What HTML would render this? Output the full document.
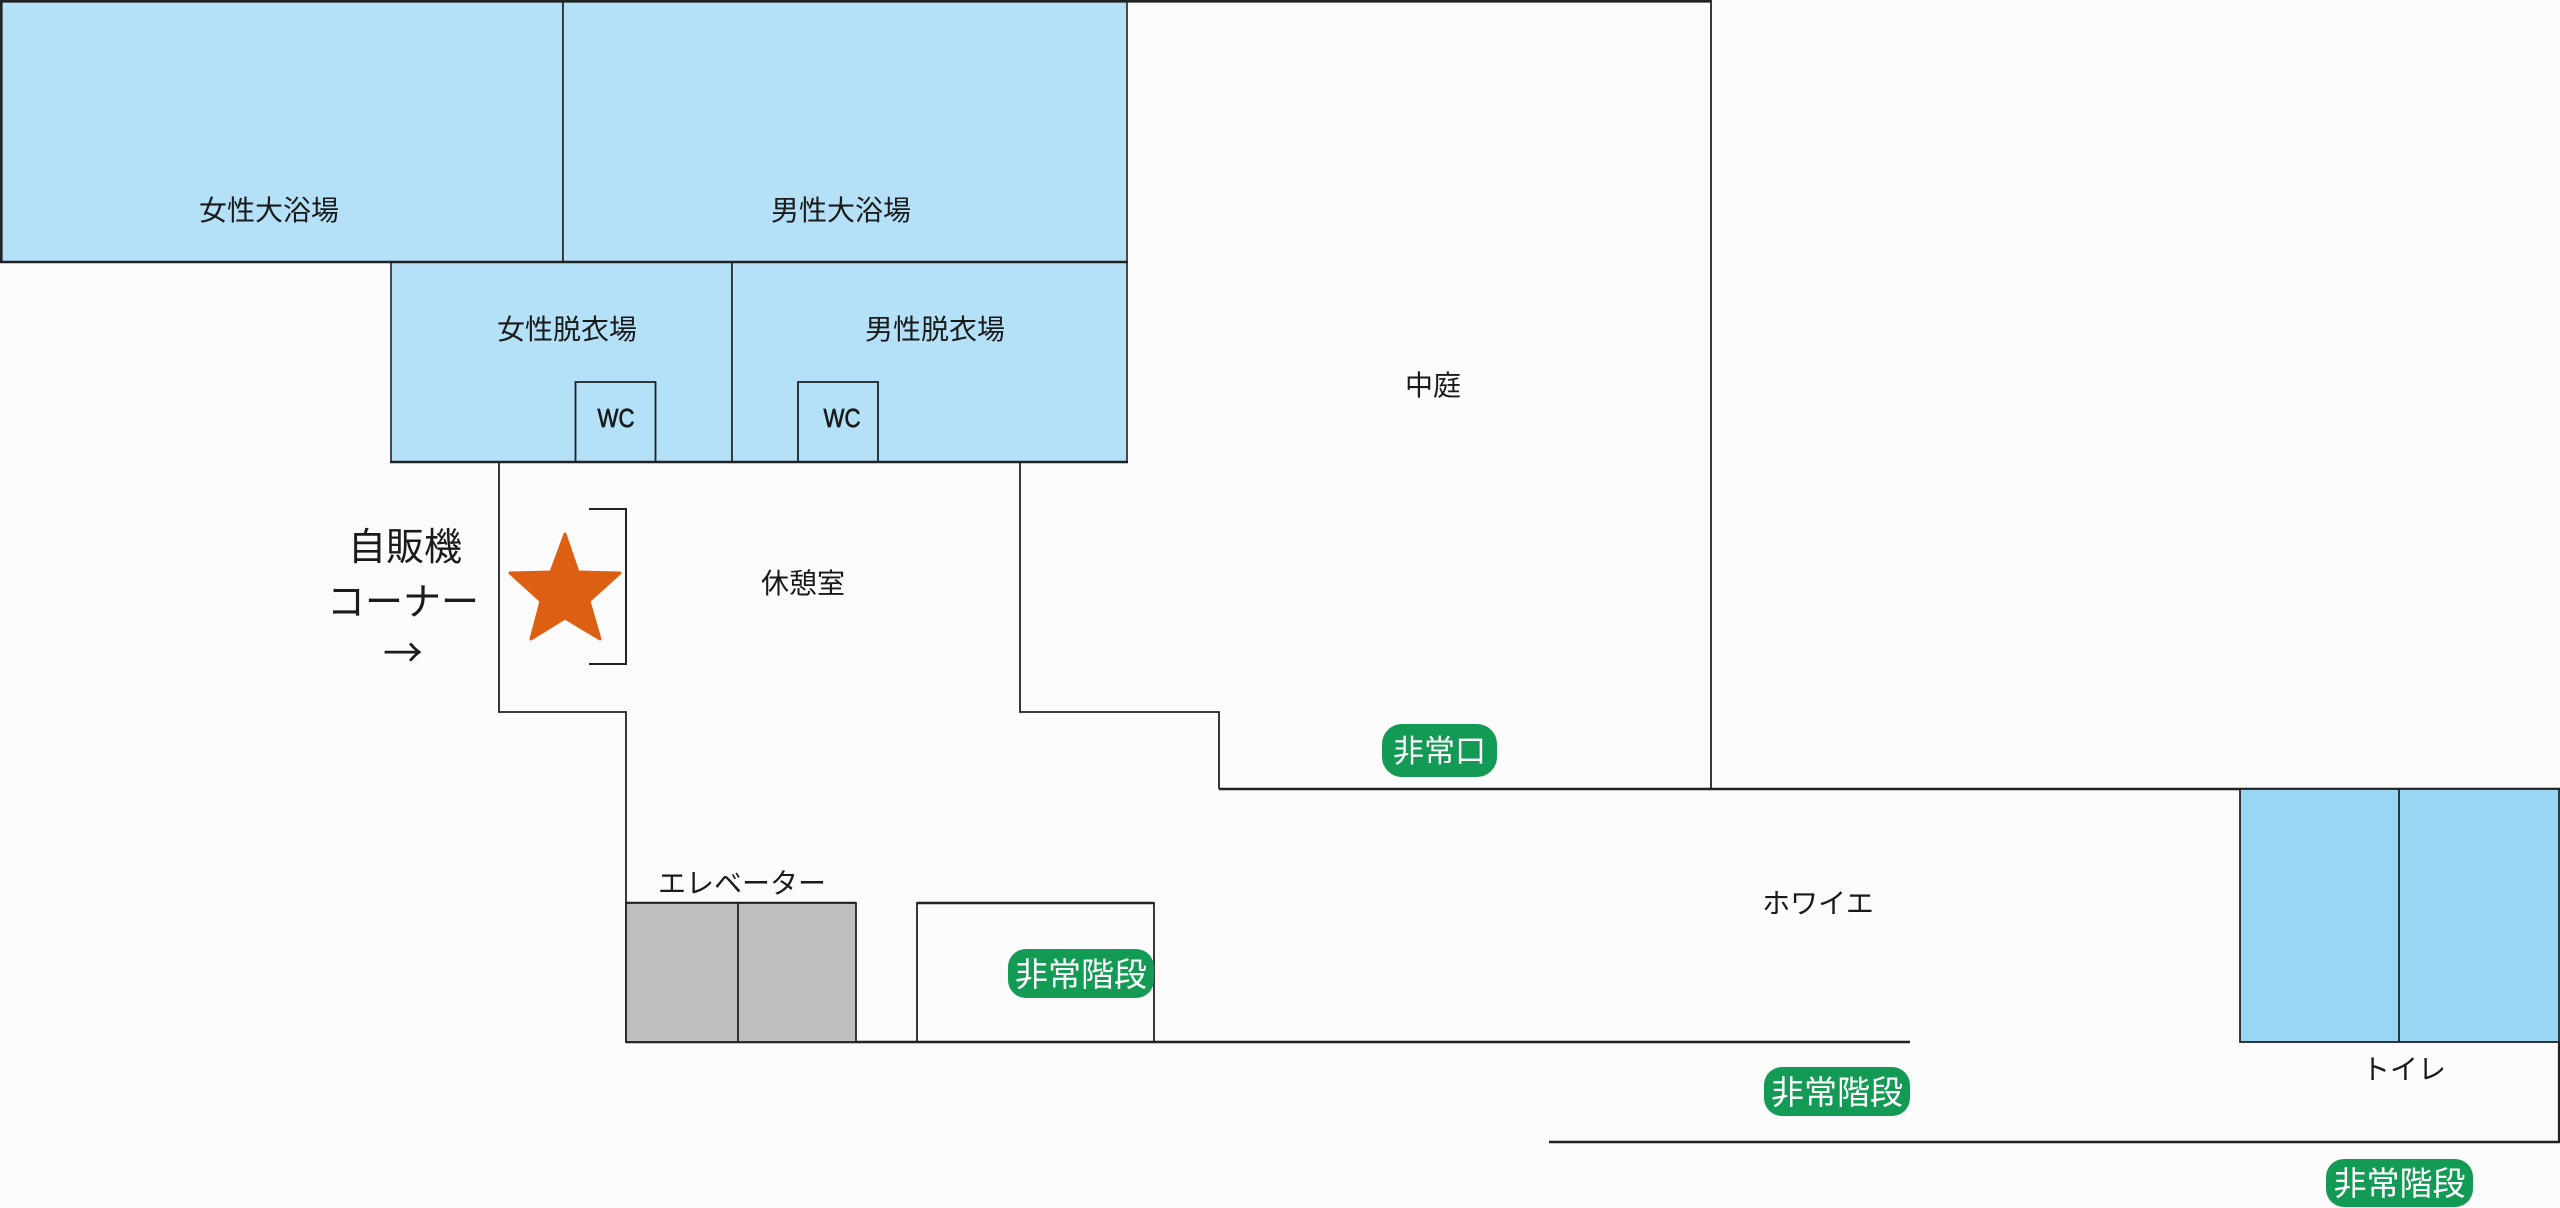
<!DOCTYPE html>
<html>
<head>
<meta charset="utf-8">
<style>
  html, body { margin: 0; padding: 0; background: #fbfbfb; }
  svg { display: block; }
  text { font-family: "Liberation Sans", "Noto Sans CJK JP", sans-serif; fill: #1a1a1a; }
  .lbl { font-size: 28px; text-anchor: middle; }
  .big { font-size: 38px; text-anchor: middle; }
  .badge { fill: #139a55; }
  .bt { fill: #ffffff; text-anchor: middle; }
</style>
</head>
<body>
<svg width="2560" height="1208" viewBox="0 0 2560 1208" xmlns="http://www.w3.org/2000/svg">
  <rect x="0" y="0" width="2560" height="1208" fill="#fbfbfb"/>

  <!-- Bath rooms -->
  <rect x="1" y="1" width="562" height="261" fill="#b4e1f7" stroke="#222" stroke-width="1.6"/>
  <rect x="563" y="1" width="564" height="261" fill="#b4e1f7" stroke="#222" stroke-width="1.6"/>
  <!-- Changing rooms -->
  <rect x="391" y="262" width="341" height="200" fill="#b4e1f7" stroke="#222" stroke-width="1.6"/>
  <rect x="732" y="262" width="395" height="200" fill="#b4e1f7" stroke="#222" stroke-width="1.6"/>
  <!-- WC boxes -->
  <rect x="575.5" y="382" width="80" height="80" fill="#b4e1f7" stroke="#222" stroke-width="1.8"/>
  <rect x="798" y="382" width="80" height="80" fill="#b4e1f7" stroke="#222" stroke-width="1.8"/>

  <!-- Thick outer lines -->
  <g stroke="#222" stroke-width="2.6" fill="none">
    <line x1="0" y1="1.3" x2="1711" y2="1.3"/>
    <line x1="1.3" y1="0" x2="1.3" y2="262"/>
    <line x1="0" y1="262" x2="1128" y2="262"/>
    <line x1="390" y1="462" x2="1128" y2="462"/>
    <line x1="1219" y1="789" x2="2560" y2="789"/>
    <line x1="626" y1="1042" x2="1910" y2="1042"/>
    <line x1="1549" y1="1142" x2="2560" y2="1142"/>
    <line x1="626" y1="903" x2="856" y2="903"/>
    <line x1="917" y1="903" x2="1154" y2="903"/>
  </g>

  <!-- Thinner walls -->
  <g stroke="#222" stroke-width="1.8" fill="none">
    <line x1="1711" y1="0" x2="1711" y2="789"/>
    <polyline points="499,462 499,712 626,712 626,1042"/>
    <polyline points="1020,462 1020,712 1219,712 1219,789"/>
    <polyline points="589,509 626,509 626,664 589,664" stroke-width="2"/>
  </g>

  <!-- Elevators -->
  <rect x="626" y="903" width="230" height="139" fill="#bdbebd" stroke="#222" stroke-width="1.8"/>
  <line x1="738" y1="903" x2="738" y2="1042" stroke="#222" stroke-width="1.8"/>
  <!-- Stair box -->
  <rect x="917" y="903" width="237" height="139" fill="none" stroke="#222" stroke-width="1.8"/>

  <!-- Toilets -->
  <rect x="2240" y="789" width="319" height="253" fill="#98d6f3" stroke="#222" stroke-width="1.8"/>
  <line x1="2399" y1="789" x2="2399" y2="1042" stroke="#222" stroke-width="1.8"/>
  <line x1="2559" y1="1042" x2="2559" y2="1142" stroke="#222" stroke-width="2.2"/>

  <!-- Star -->
  <polygon points="565,534 578,572 620,573 589,601 600,639 565,618 531,639 541,601 510,573 551,572"
           fill="#dd6012" stroke="#dd6012" stroke-width="3" stroke-linejoin="round"/>

  <!-- Labels -->
  <text class="lbl" x="269" y="220">女性大浴場</text>
  <text class="lbl" x="841" y="220">男性大浴場</text>
  <text class="lbl" x="567" y="339">女性脱衣場</text>
  <text class="lbl" x="935" y="339">男性脱衣場</text>
  <text x="616" y="427" font-size="26" text-anchor="middle" textLength="37" lengthAdjust="spacingAndGlyphs" stroke="#1a1a1a" stroke-width="0.7">WC</text>
  <text x="842" y="427" font-size="26" text-anchor="middle" textLength="37" lengthAdjust="spacingAndGlyphs" stroke="#1a1a1a" stroke-width="0.7">WC</text>
  <text class="lbl" x="1433" y="395">中庭</text>
  <text class="lbl" x="803" y="593">休憩室</text>
  <text class="big" x="405" y="560">自販機</text>
  <text class="big" x="403" y="615">コーナー</text>
  <text x="403" y="667" font-size="40" text-anchor="middle" style="font-family:'Noto Sans CJK JP', sans-serif;">→</text>
  <text class="lbl" x="742" y="893">エレベーター</text>
  <text class="lbl" x="1818" y="913">ホワイエ</text>
  <text class="lbl" x="2404" y="1079">トイレ</text>

  <!-- Badges -->
  <rect class="badge" x="1382" y="724" width="115" height="53" rx="20" ry="20"/>
  <text class="bt" x="1439.5" y="762" font-size="31">非常口</text>

  <rect class="badge" x="1008" y="949" width="146" height="49" rx="18" ry="18"/>
  <text class="bt" x="1081" y="986" font-size="33">非常階段</text>

  <rect class="badge" x="1764" y="1067" width="146" height="49" rx="18" ry="18"/>
  <text class="bt" x="1837" y="1104" font-size="33">非常階段</text>

  <rect class="badge" x="2326" y="1159" width="147" height="48" rx="18" ry="18"/>
  <text class="bt" x="2399.5" y="1195" font-size="33">非常階段</text>
</svg>
</body>
</html>
